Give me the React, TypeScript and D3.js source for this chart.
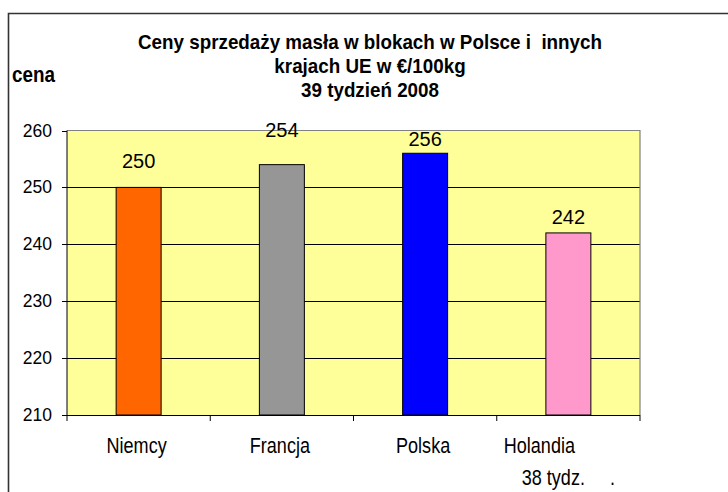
import React from "react";
import * as d3 from "d3";

const categories = ["Niemcy", "Francja", "Polska", "Holandia"];
const values = [250, 254, 256, 242];
const subLabels = ["", "", "", "38 tydz.\u00a0\u00a0\u00a0\u00a0\u00a0."];
const yTicks = [210, 220, 230, 240, 250, 260];
const titleLines = [
  "Ceny sprzedaży masła w blokach w Polsce i\u00a0 innych",
  "krajach UE w €/100kg",
  "39 tydzień 2008",
];
const yAxisTitle = "cena";

// styles
const barColors = ["#FF6600", "#969696", "#0000FF", "#FF99CC"];
const labelLift = [19, 28, 7, 9]; // manual label placement above bars (px)

const W = 728;
const H = 492;
const plot = { left: 67, right: 640, top: 130.5, bottom: 415 };
const font = "'Liberation Sans', Arial, Helvetica, sans-serif";

export default function App() {
  const x = d3
    .scaleBand<string>()
    .domain(categories)
    .range([plot.left, plot.right])
    .paddingInner(0.686)
    .paddingOuter(0.343);
  const xb = d3.scaleBand<string>().domain(categories).range([plot.left, plot.right]);
  const y = d3.scaleLinear().domain([210, 260]).range([plot.bottom, plot.top]);

  const catTicks = [...categories.map((c) => xb(c) as number), plot.right];

  return (
    <svg
      width={W}
      height={H}
      style={{ position: "absolute", left: 0, top: 0, background: "#fff" }}
      fontFamily={font}
    >
      {/* outer frame */}
      <path d={`M8.5,${H} V13.5 H${W}`} fill="none" stroke="#333" strokeWidth={1.6} />

      {/* title */}
      {titleLines.map((t, i) => (
        <text
          key={i}
          transform={`translate(370,${49 + i * 24}) scale(0.965,1.06)`}
          textAnchor="middle"
          fontWeight="bold"
          fontSize={19.5}
          style={{ whiteSpace: "pre" }}
        >
          {t}
        </text>
      ))}
      <text transform="translate(12,82) scale(0.92,1.08)" fontWeight="bold" fontSize={20.5}>
        {yAxisTitle}
      </text>

      {/* plot area */}
      <rect
        x={plot.left}
        y={plot.top}
        width={plot.right - plot.left}
        height={plot.bottom - plot.top}
        fill="#FFFF99"
      />
      {/* gridlines */}
      {yTicks
        .filter((t) => t > 210 && t < 260)
        .map((t) => (
          <line
            key={t}
            x1={plot.left}
            x2={plot.right}
            y1={Math.round(y(t)) + 0.5}
            y2={Math.round(y(t)) + 0.5}
            stroke="#000"
            strokeWidth={1}
          />
        ))}
      {/* top & right border */}
      <path
        d={`M${plot.left},${plot.top} H${plot.right} V${plot.bottom}`}
        fill="none"
        stroke="#808080"
        strokeWidth={1.2}
      />

      {/* bars */}
      {categories.map((c, i) => (
        <rect
          key={c}
          x={x(c)}
          y={y(values[i])}
          width={x.bandwidth()}
          height={plot.bottom - y(values[i])}
          fill={barColors[i]}
          stroke="#000"
          strokeWidth={1}
        />
      ))}

      {/* value labels */}
      {categories.map((c, i) => (
        <text
          key={c}
          x={(x(c) as number) + x.bandwidth() / 2}
          y={y(values[i]) - labelLift[i]}
          textAnchor="middle"
          fontSize={20}
        >
          {values[i]}
        </text>
      ))}

      {/* y axis */}
      <line x1={plot.left} x2={plot.left} y1={plot.top} y2={plot.bottom} stroke="#000" strokeWidth={1} />
      {yTicks.map((t) => (
        <g key={t}>
          <line
            x1={plot.left - 5}
            x2={plot.left}
            y1={Math.round(y(t)) + 0.5}
            y2={Math.round(y(t)) + 0.5}
            stroke="#000"
          />
          <text x={52} y={y(t) + 6} textAnchor="end" fontSize={17.5}>
            {t}
          </text>
        </g>
      ))}

      {/* x axis */}
      <line x1={plot.left} x2={plot.right} y1={plot.bottom + 0.5} y2={plot.bottom + 0.5} stroke="#000" strokeWidth={1.2} />
      {catTicks.map((t, i) => (
        <line key={i} x1={t} x2={t} y1={plot.bottom} y2={plot.bottom + 6} stroke="#000" />
      ))}
      {categories.map((c, i) => {
        const cx = (xb(c) as number) + xb.bandwidth() / 2;
        return (
          <g key={c}>
            <text
              transform={`translate(${subLabels[i] ? cx - 29 : cx - 2},453) scale(0.84,1)`}
              textAnchor="middle"
              fontSize={21.5}
            >
              {c}
            </text>
            {subLabels[i] && (
              <text
                transform={`translate(${cx},485) scale(0.84,1)`}
                textAnchor="middle"
                fontSize={21.5}
              >
                {subLabels[i]}
              </text>
            )}
          </g>
        );
      })}
    </svg>
  );
}
